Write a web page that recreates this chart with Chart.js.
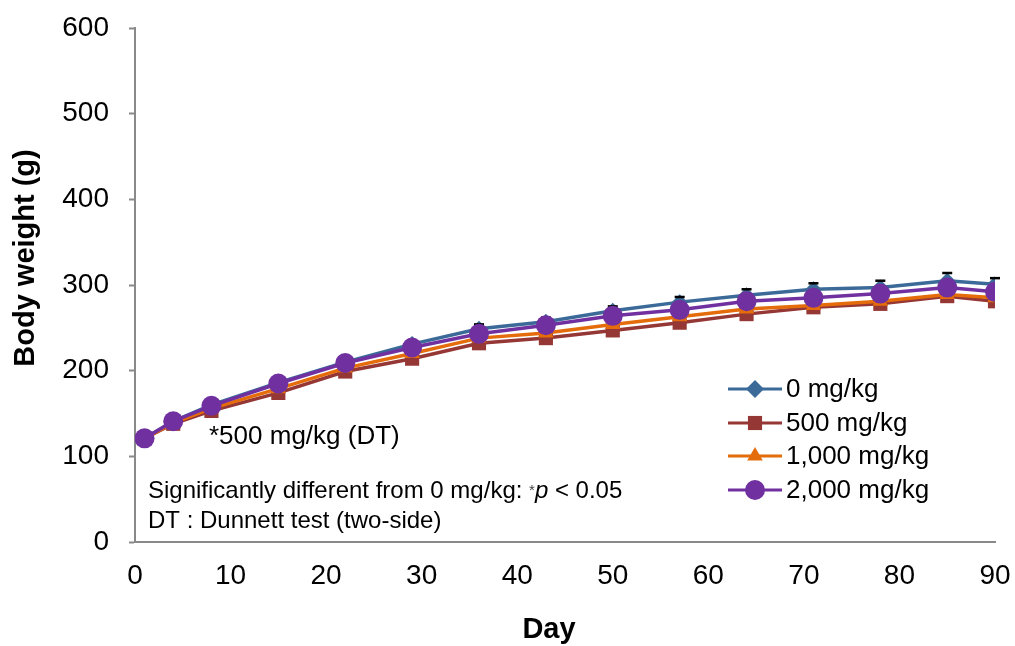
<!DOCTYPE html>
<html>
<head>
<meta charset="utf-8">
<script src="https://cdn.jsdelivr.net/npm/chart.js@4.4.1/dist/chart.umd.min.js"></script>
<style>
  html, body { margin: 0; padding: 0; background: #ffffff; }
  #bwChart { display: block; }
</style>
</head>
<body>
<canvas id="bwChart" width="1015" height="646"></canvas>
<script>
// ============================================================
// BODY WEIGHT CHART — data
// ============================================================

const days = [1, 4, 8, 15, 22, 29, 36, 43, 50, 57, 64, 71, 78, 85, 90];

const dose0 = [121, 141, 160, 186, 210, 231, 249, 257, 270, 280, 288, 295, 297, 305, 301];
const dose500 = [121, 138, 153, 174, 199, 214, 232, 238, 247, 256, 266, 274, 278, 287, 281];
const dose1000 = [121, 139, 156, 179, 203, 220, 238, 244, 254, 263, 272, 276, 281, 289, 285];
const dose2000 = [121, 141, 159, 185, 209, 227, 243, 253, 264, 271, 281, 285, 290, 297, 292];

// upper SD for 0 mg/kg (other groups' bars sit under their markers)
const dose0Sd = [3, 3, 3, 4, 4, 4, 5, 5, 5, 6, 7, 7, 8, 9, 7];

const seriesLabels = ["0 mg/kg", "500 mg/kg", "1,000 mg/kg", "2,000 mg/kg"];
const yTicks = [0, 100, 200, 300, 400, 500, 600];
const xTicks = [0, 10, 20, 30, 40, 50, 60, 70, 80, 90];

const FONT = "'Liberation Sans', Arial, sans-serif";
const AXIS_GREY = "#898989";

// ============================================================
// HELPERS
// ============================================================

function toPoints(values) {
  return days.map((d, i) => ({ x: d, y: values[i] }));
}

function makeSeries(label, values, color, style, radius, order) {
  return {
    label,
    data: toPoints(values),
    borderColor: color,
    backgroundColor: color,
    borderWidth: 3.5,
    pointStyle: style,
    pointRadius: radius,
    pointHoverRadius: radius,
    pointBorderWidth: 0,
    pointBackgroundColor: color,
    order
  };
}

// error bars for 0 mg/kg: drawn right after that series, under the others
const errorBars = {
  id: "errorBars",
  afterDatasetDraw(chart, args) {
    if (args.index !== 0) return;
    const { ctx, scales } = chart;
    const tip = chart.data.datasets[0].pointRadius;
    ctx.save();
    ctx.strokeStyle = "#000000";
    ctx.lineWidth = 2.5;
    days.forEach((d, i) => {
      const x = scales.x.getPixelForValue(d);
      const y0 = scales.y.getPixelForValue(dose0[i]);
      const y1 = scales.y.getPixelForValue(dose0[i] + dose0Sd[i]);
      ctx.beginPath();
      if (y0 - tip > y1) {
        ctx.moveTo(x, y0 - tip);
        ctx.lineTo(x, y1);
      }
      ctx.moveTo(x - 5, y1);
      ctx.lineTo(x + 5, y1);
      ctx.stroke();
    });
    ctx.restore();
  }
};

// legend inside the plot, axis titles and notes
const extras = {
  id: "extras",
  afterDraw(chart) {
    const ctx = chart.ctx;
    ctx.save();

    // legend
    const rowY = [389, 423, 456, 490];
    chart.data.datasets.forEach((ds, i) => {
      const y = rowY[i];
      ctx.strokeStyle = ds.borderColor;
      ctx.fillStyle = ds.borderColor;
      ctx.lineWidth = 3;
      ctx.beginPath();
      ctx.moveTo(728, y);
      ctx.lineTo(782, y);
      ctx.stroke();
      Chart.helpers.drawPoint(ctx, {
        pointStyle: ds.pointStyle,
        radius: ds.pointStyle === "rectRot" ? 9 : ds.pointRadius,
        rotation: 0,
        borderWidth: 0
      }, 755, y);
      ctx.fillStyle = "#000000";
      ctx.font = "26px " + FONT;
      ctx.textAlign = "left";
      ctx.textBaseline = "middle";
      ctx.fillText(ds.label, 786, y + 1);
    });

    // axis titles
    ctx.fillStyle = "#000000";
    ctx.font = "bold 29px " + FONT;
    ctx.textAlign = "center";
    ctx.textBaseline = "middle";
    ctx.fillText("Day", 549, 630);

    ctx.save();
    ctx.translate(26, 258);
    ctx.rotate(-Math.PI / 2);
    ctx.fillText("Body weight (g)", 0, 0);
    ctx.restore();

    // significance note
    ctx.textAlign = "left";
    ctx.font = "26px " + FONT;
    ctx.fillText("*500 mg/kg (DT)", 209, 437);

    ctx.font = "24px " + FONT;
    const lead = "Significantly different from 0 mg/kg: ";
    let x = 148;
    ctx.fillText(lead, x, 491);
    x += ctx.measureText(lead).width;
    ctx.font = "15px " + FONT;
    ctx.fillStyle = "#444444";
    ctx.fillText("*", x, 491);
    x += ctx.measureText("*").width;
    ctx.fillStyle = "#000000";
    ctx.font = "italic 24px " + FONT;
    ctx.fillText("p", x, 491);
    x += ctx.measureText("p").width;
    ctx.font = "24px " + FONT;
    ctx.fillText(" < 0.05", x, 491);

    ctx.fillText("DT : Dunnett test (two-side)", 148, 521);

    ctx.restore();
  }
};

// ============================================================
// CHART
// ============================================================

new Chart(document.getElementById("bwChart"), {
  type: "line",
  data: {
    datasets: [
      makeSeries(seriesLabels[0], dose0, "#3B6A99", "rectRot", 8, 4),
      makeSeries(seriesLabels[1], dose500, "#953735", "rect", 10, 3),
      makeSeries(seriesLabels[2], dose1000, "#E46C0A", "triangle", 9, 2),
      makeSeries(seriesLabels[3], dose2000, "#7030A0", "circle", 10, 1)
    ]
  },
  options: {
    responsive: false,
    animation: false,
    layout: {
      padding: { top: 28, right: 20, left: 0, bottom: 0 }
    },
    plugins: {
      legend: { display: false },
      tooltip: { enabled: false }
    },
    scales: {
      x: {
        type: "linear",
        min: 0,
        max: 90,
        afterBuildTicks: scale => {
          scale.ticks = xTicks.map(v => ({ value: v }));
        },
        afterFit: scale => {
          scale.height = 104;
          scale.paddingLeft = 0;
          scale.paddingRight = 0;
        },
        grid: { drawOnChartArea: false, drawTicks: false },
        border: { color: AXIS_GREY, width: 2 },
        ticks: {
          color: "#000000",
          font: { family: FONT, size: 28 },
          padding: 17,
          maxRotation: 0
        }
      },
      y: {
        min: 0,
        max: 600,
        afterBuildTicks: scale => {
          scale.ticks = yTicks.map(v => ({ value: v }));
        },
        afterFit: scale => {
          scale.width = 135;
          scale.paddingTop = 0;
          scale.paddingBottom = 0;
        },
        grid: {
          drawOnChartArea: false,
          drawTicks: true,
          tickLength: 6,
          tickWidth: 2,
          tickColor: AXIS_GREY
        },
        border: { color: AXIS_GREY, width: 2 },
        ticks: {
          color: "#000000",
          font: { family: FONT, size: 28 },
          padding: 20
        }
      }
    }
  },
  plugins: [errorBars, extras]
});
</script>
</body>
</html>
